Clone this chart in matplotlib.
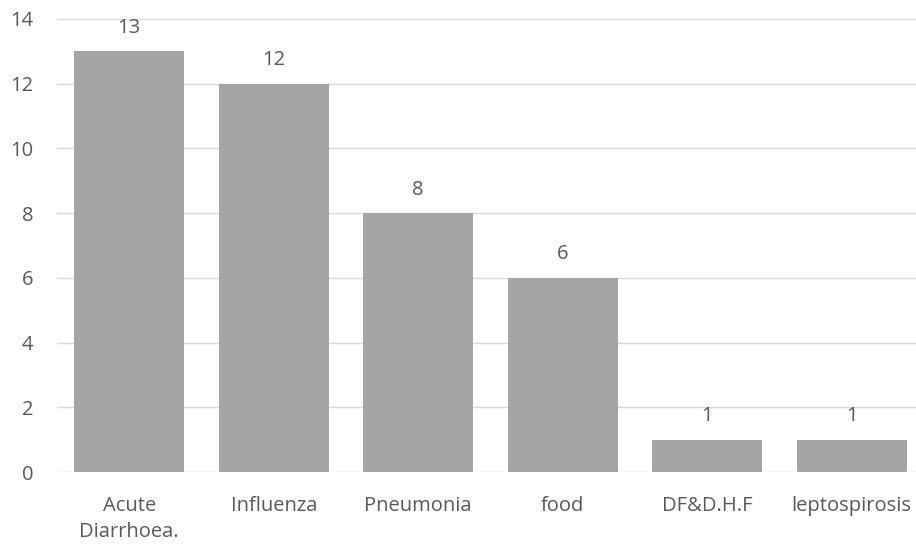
import matplotlib
matplotlib.use("Agg")
import matplotlib.pyplot as plt

categories = ["Acute\nDiarrhoea.", "Influenza", "Pneumonia", "food", "DF&D.H.F", "leptospirosis"]
values = [13, 12, 8, 6, 1, 1]
yticks = [0, 2, 4, 6, 8, 10, 12, 14]

plt.rcParams['font.family'] = ['Open Sans', 'DejaVu Sans']
text_color = "#595959"
fs = 14.5

fig = plt.figure(figsize=(9.16, 5.46), dpi=100)
ax = fig.add_axes([57 / 916, 74 / 546, 1 - 57 / 916, 453 / 546])

x = range(len(categories))
bars = ax.bar(x, values, width=0.76, color="#A5A5A5", zorder=3)

for b, v in zip(bars, values):
    ax.annotate(str(v), (b.get_x() + b.get_width() / 2, v), xytext=(0, 17),
                textcoords="offset points", ha="center", va="center",
                fontsize=fs, color=text_color)

ax.set_ylim(0, 14)
ax.set_xlim(-0.5, 5.5 - 8 / 144.6)
ax.set_yticks(yticks)
ax.set_xticks(list(x))
ax.set_xticklabels(categories, linespacing=1.45)
ax.yaxis.grid(True, color="#D9D9D9", linewidth=1, zorder=0)
ax.tick_params(axis="both", length=0, labelsize=fs, labelcolor=text_color)
ax.tick_params(axis="x", pad=17)
ax.tick_params(axis="y", pad=17)
for s in ax.spines.values():
    s.set_visible(False)

fig.savefig("out.png", dpi=100)
